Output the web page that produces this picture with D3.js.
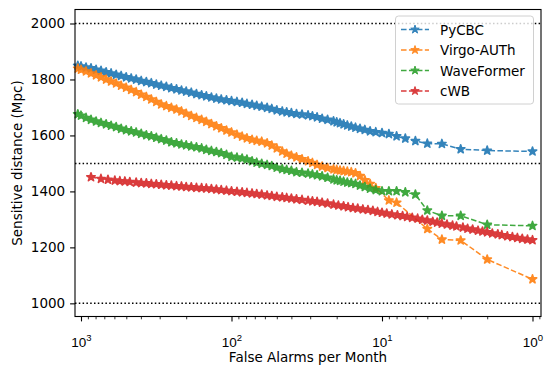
<!DOCTYPE html>
<html>
<head>
<meta charset="utf-8">
<script src="https://cdn.jsdelivr.net/npm/d3@7"></script>
<style>
  html, body { margin: 0; padding: 0; background: #fff; }
  svg { display: block; font-family: "DejaVu Sans", sans-serif; }
</style>
</head>
<body>
<svg width="555" height="375"></svg>
<script>
// false alarms per month (dense part, shared by PyCBC / Virgo-AUTh / WaveFormer)
const farDense = [
  1050, 1000, 926, 858, 794, 736, 681, 631, 584, 541, 501, 464, 430, 398, 368, 341,
  316, 293, 271, 251, 232, 215, 200, 185, 171, 158, 147, 136, 126, 117, 108, 100,
  92, 85, 79, 73, 68, 63, 58, 54, 50, 46, 43, 40, 37, 34, 31, 29,
  27, 25, 23, 21, 20, 19, 18, 17, 16, 15, 14, 13, 12, 11
];

const pycbcDense = [
  1849, 1847, 1843, 1840, 1835, 1831, 1826, 1822, 1817, 1813, 1808, 1804, 1800, 1795, 1791, 1787,
  1782, 1778, 1774, 1769, 1765, 1761, 1757, 1753, 1748, 1744, 1740, 1736, 1732, 1729, 1726, 1723,
  1720, 1717, 1713, 1710, 1706, 1703, 1699, 1695, 1690, 1686, 1683, 1680, 1677, 1675, 1672, 1669,
  1665, 1660, 1656, 1651, 1647, 1644, 1640, 1636, 1632, 1628, 1624, 1620, 1615, 1612
];
const pycbcTailFar = [10, 9, 8, 7, 6, 5, 4, 3, 2, 1];
const pycbcTail = [1609, 1605, 1597, 1589, 1580, 1571, 1570, 1551, 1546, 1543];

const virgoDense = [
  1839, 1835, 1829, 1822, 1815, 1808, 1800, 1793, 1786, 1778, 1771, 1763, 1755, 1746, 1738, 1729,
  1720, 1711, 1705, 1699, 1693, 1686, 1678, 1670, 1663, 1656, 1649, 1641, 1633, 1626, 1618, 1611,
  1603, 1596, 1590, 1585, 1581, 1578, 1572, 1564, 1554, 1543, 1535, 1528, 1522, 1515, 1508, 1502,
  1495, 1489, 1484, 1479, 1477, 1475, 1473, 1471, 1469, 1465, 1455, 1440, 1427, 1412
];
const virgoTailFar = [9, 8, 5, 4, 3, 2, 1];
const virgoTail = [1368, 1360, 1266, 1228, 1225, 1157, 1086];

const waveDense = [
  1676, 1671, 1663, 1656, 1650, 1645, 1640, 1635, 1630, 1624, 1619, 1615, 1611, 1606, 1601, 1597,
  1592, 1587, 1582, 1576, 1572, 1568, 1565, 1561, 1558, 1554, 1549, 1545, 1541, 1537, 1531, 1524,
  1521, 1518, 1514, 1508, 1503, 1499, 1495, 1491, 1485, 1480, 1477, 1474, 1469, 1467, 1464, 1461,
  1458, 1454, 1449, 1443, 1440, 1438, 1435, 1432, 1430, 1427, 1421, 1416, 1410, 1405
];
const waveTailFar = [10, 9, 8, 7, 6, 5, 4, 3, 2, 1];
const waveTail = [1401, 1401, 1401, 1397, 1389, 1332, 1313, 1313, 1281, 1277];

const cwbFar = [
  858, 737, 662, 596, 552, 511, 474, 430, 398, 368, 341, 316, 293, 271, 251, 232,
  215, 200, 185, 171, 158, 147, 136, 126, 117, 108, 100, 92, 85, 79, 73, 68,
  63, 58, 54, 50, 46, 43, 40, 37, 34, 31, 29, 27, 25, 23, 21, 19.5,
  18, 16.8, 15.6, 14.5, 13.4, 12.4, 11.5, 10.7, 10, 9.3, 8.6, 7.9, 7.3, 6.8,
  6.3, 5.8, 5.4, 5.0, 4.6, 4.3, 4.0, 3.7, 3.4, 3.2, 2.9, 2.7, 2.5, 2.3,
  2.15, 2.0, 1.85, 1.7, 1.6, 1.47, 1.36, 1.26, 1.17, 1.08, 1.0
];
const cwbDist = [
  1451, 1445, 1442, 1439, 1437, 1436, 1434, 1432, 1430, 1429, 1427, 1426, 1424, 1422, 1421, 1419,
  1418, 1416, 1415, 1413, 1412, 1411, 1409, 1407, 1405, 1403, 1401, 1399, 1397, 1395, 1393, 1391,
  1389, 1386, 1384, 1381, 1379, 1377, 1375, 1372, 1370, 1367, 1365, 1363, 1360, 1357, 1353, 1350,
  1347, 1344, 1341, 1339, 1336, 1334, 1331, 1327, 1324, 1321, 1318, 1315, 1312, 1309,
  1306, 1303, 1299, 1296, 1292, 1289, 1285, 1282, 1278, 1275, 1271, 1267, 1264, 1260,
  1257, 1254, 1250, 1247, 1244, 1240, 1237, 1234, 1231, 1228, 1226
];

const seriesNames = ['PyCBC', 'Virgo-AUTh', 'WaveFormer', 'cWB'];
const seriesColors = ['#1f77b4', '#ff7f0e', '#2ca02c', '#d62728'];
const refLines = [1000, 1500, 2000];
const yTicks = [1000, 1200, 1400, 1600, 1800, 2000];
const xMajor = [1000, 100, 10, 1];
const xMajorExp = ['3', '2', '1', '0'];

const pairs = (fars, dists) => fars.map((f, i) => ({ far: f, dist: dists[i] }));
const series = [
  pairs(farDense.concat(pycbcTailFar), pycbcDense.concat(pycbcTail)),
  pairs(farDense.concat(virgoTailFar), virgoDense.concat(virgoTail)),
  pairs(farDense.concat(waveTailFar), waveDense.concat(waveTail)),
  pairs(cwbFar, cwbDist)
];

const svg = d3.select('svg');
const L = 75, R = 541, T = 9.5, B = 316.5;
const FONT = 13.5;

const X = d3.scaleLog().domain([1096, 0.878]).range([L, R]);
const Y = d3.scaleLinear().domain([953, 2050]).range([B, T]);

// minor log ticks
const xMinor = [];
[1, 10, 100].forEach(dec => {
  for (let k = 2; k <= 9; k++) xMinor.push(dec * k);
});
xMinor.push(0.9);

svg.append('g')
  .attr('transform', `translate(0,${B})`)
  .call(d3.axisBottom(X).tickValues(xMinor.filter(v => v > 0.878 && v < 1096)).tickSize(2.8).tickFormat(''))
  .call(g => g.select('.domain').remove())
  .call(g => g.selectAll('line').attr('stroke', '#000').attr('stroke-width', 0.8));

const xAxis = svg.append('g')
  .attr('transform', `translate(0,${B})`)
  .call(d3.axisBottom(X).tickValues(xMajor).tickSize(4.9).tickPadding(4.9).tickFormat(''))
  .call(g => g.select('.domain').remove())
  .call(g => g.selectAll('line').attr('stroke', '#000').attr('stroke-width', 1.1));

xAxis.selectAll('.tick').each(function (d, i) {
  const t = d3.select(this).append('text')
    .attr('y', 30.5)
    .attr('fill', '#000')
    .attr('font-size', FONT)
    .attr('text-anchor', 'middle');
  t.append('tspan').text('10');
  t.append('tspan').attr('dy', -6).attr('font-size', 9.5).text(xMajorExp[i]);
});

svg.append('g')
  .attr('transform', `translate(${L},0)`)
  .call(d3.axisLeft(Y).tickValues(yTicks).tickSize(4.9).tickPadding(4.9).tickFormat(d3.format('d')))
  .call(g => g.select('.domain').remove())
  .call(g => g.selectAll('line').attr('stroke', '#000').attr('stroke-width', 1.1))
  .call(g => g.selectAll('text').attr('fill', '#000').attr('font-size', FONT).attr('font-family', '"DejaVu Sans", sans-serif'));

// curves
const line = d3.line().x(d => X(d.far)).y(d => Y(d.dist));
const star = d3.symbol(d3.symbolStar, 22);

series.forEach((data, i) => {
  const g = svg.append('g').attr('opacity', 0.9);
  g.append('path')
    .datum(data)
    .attr('d', line)
    .attr('fill', 'none')
    .attr('stroke', seriesColors[i])
    .attr('stroke-width', 1.5)
    .attr('stroke-dasharray', '5.55,2.4');
  g.selectAll('path.m')
    .data(data)
    .join('path')
    .attr('class', 'm')
    .attr('d', star)
    .attr('transform', d => `translate(${X(d.far)},${Y(d.dist)})`)
    .attr('fill', seriesColors[i])
    .attr('stroke', seriesColors[i])
    .attr('stroke-width', 1.6)
    .attr('stroke-linejoin', 'round');
});

// dotted reference lines
svg.selectAll('line.ref')
  .data(refLines)
  .join('line')
  .attr('class', 'ref')
  .attr('x1', L).attr('x2', R)
  .attr('y1', d => Y(d)).attr('y2', d => Y(d))
  .attr('stroke', '#000')
  .attr('stroke-width', 1.5)
  .attr('stroke-dasharray', '1.5,2.3');

// frame
svg.append('rect')
  .attr('x', L).attr('y', T)
  .attr('width', R - L).attr('height', B - T)
  .attr('fill', 'none')
  .attr('stroke', '#000')
  .attr('stroke-width', 1.1);

// legend
const lg = svg.append('g');
lg.append('rect')
  .attr('x', 395.5).attr('y', 16)
  .attr('width', 138).attr('height', 88)
  .attr('rx', 3)
  .attr('fill', '#fff').attr('fill-opacity', 0.8)
  .attr('stroke', '#d0d0d0').attr('stroke-width', 1);

seriesNames.forEach((name, i) => {
  const cy = 29.5 + i * 20.5;
  const row = lg.append('g').attr('opacity', 0.9);
  row.append('line')
    .attr('x1', 401).attr('x2', 429)
    .attr('y1', cy).attr('y2', cy)
    .attr('stroke', seriesColors[i])
    .attr('stroke-width', 1.5)
    .attr('stroke-dasharray', '5.55,2.4');
  row.append('path')
    .attr('d', star)
    .attr('transform', `translate(415,${cy})`)
    .attr('fill', seriesColors[i])
    .attr('stroke', seriesColors[i])
    .attr('stroke-width', 1);
  lg.append('text')
    .attr('x', 440).attr('y', cy + 5)
    .attr('font-size', FONT)
    .attr('fill', '#000')
    .text(name);
});

// axis titles
svg.append('text')
  .attr('x', (L + R) / 2).attr('y', 362)
  .attr('text-anchor', 'middle')
  .attr('font-size', FONT)
  .text('False Alarms per Month');

svg.append('text')
  .attr('transform', `translate(22,${(T + B) / 2}) rotate(-90)`)
  .attr('text-anchor', 'middle')
  .attr('font-size', FONT)
  .text('Sensitive distance (Mpc)');
</script>
</body>
</html>
